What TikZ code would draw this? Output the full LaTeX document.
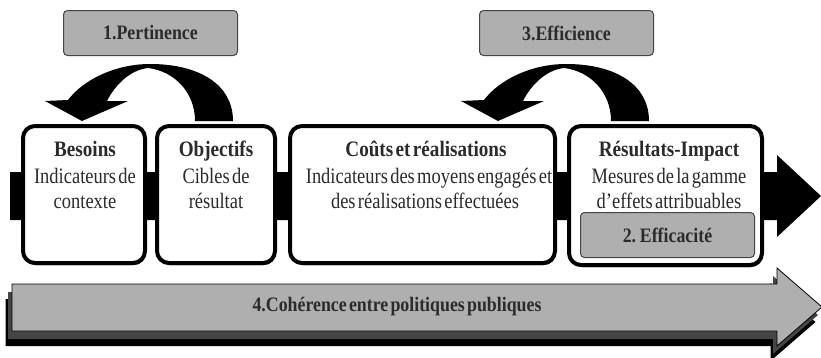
\documentclass[tikz,border=0pt]{standalone}
\usepackage{fontspec}
\setmainfont{Liberation Serif}[FakeStretch=0.84,WordSpace=0.5,BoldFeatures={FakeStretch=0.87}]
\usetikzlibrary{shadows}
\definecolor{lblfill}{HTML}{AFAFAF}
\definecolor{txtc}{HTML}{2B2B2B}
\definecolor{shdc}{HTML}{454545}
\begin{document}
\begin{tikzpicture}[x=1pt,y=-1pt,
  box/.style={draw=black,line width=4pt,fill=white,rounded corners=12pt,inner sep=0pt,
    general shadow={fill=black,shadow xshift=1pt,shadow yshift=-2pt}},
  lblbox/.style={draw=shdc,line width=1pt,fill=lblfill,rounded corners=4pt,inner sep=0pt,
    minimum width=174pt,minimum height=45pt,text=txtc,
    font=\fontsize{20.5}{24}\selectfont\bfseries},
  ttl/.style={font=\fontsize{22}{26}\selectfont\bfseries,text=txtc,anchor=base,inner sep=0pt},
  bodytxt/.style={font=\fontsize{22}{26}\selectfont,text=txtc,anchor=base,inner sep=0pt},
  bigtxt/.style={font=\fontsize{20.5}{24}\selectfont\bfseries,text=txtc,inner sep=0pt},
  curv/.pic={
    \fill[black] (233,121) .. controls (233,85) and (200,64) .. (150,64)
      .. controls (115,64) and (83,80) .. (68,100) -- (45,101) -- (82,121) -- (128,101) -- (107,101)
      .. controls (115,85) and (130,70) .. (148,68)
      .. controls (174,71) and (195,92) .. (195,121) -- cycle;
  }]
\useasboundingbox (0,0) rectangle (821,357);

% bottom grey arrow with shadows
\foreach \dx/\dy/\cc in {-6.5/15/black,-4/8/shdc}{
  \fill[\cc,shift={(\dx,\dy)}] (12,284) -- (777,284) -- (777,268) -- (822,307) -- (777,346) -- (777,331) -- (12,331) -- cycle;
}
\filldraw[fill=lblfill,draw=black,line width=0.8pt] (12,284) -- (777,284) -- (777,268) -- (822,307) -- (777,346) -- (777,331) -- (12,331) -- cycle;
\node[bigtxt] (coh) at (397,307) {4.Cohérence entre politiques publiques};

% main black arrow
\fill[black] (10,172) -- (777,172) -- (777,155) -- (821,196) -- (777,237) -- (777,220) -- (10,220) -- cycle;

% boxes
\node[box,minimum width=122pt,minimum height=137pt] (bes) at (84,194.5) {};
\node[box,minimum width=118pt,minimum height=137pt] (obj) at (216,194.5) {};
\node[box,minimum width=265pt,minimum height=137pt] (cou) at (422.5,194.5) {};
\node[box,minimum width=193pt,minimum height=139pt] (res) at (665.5,195.5) {};

% texts
\node[ttl] (besT) at (85,156) {Besoins};
\node[bodytxt] (besA) at (85,183) {Indicateurs de};
\node[bodytxt] (besB) at (85,208) {contexte};
\node[ttl] (objT) at (216,156) {Objectifs};
\node[bodytxt] (objA) at (216,183) {Cibles de};
\node[bodytxt] (objB) at (216,208) {résultat};
\node[ttl] (couT) at (426,156) {Coûts et réalisations};
\node[bodytxt] (couA) at (429,183) {Indicateurs des moyens engagés et};
\node[bodytxt] (couB) at (425,208) {des réalisations effectuées};
\node[ttl] (resT) at (669,156) {Résultats-Impact};
\node[bodytxt] (resA) at (669,183) {Mesures de la gamme};
\node[bodytxt] (resB) at (669,208) {d’effets attribuables};
\node[lblbox] (eff) at (667.5,235) {2. Efficacité};

% curved arrows
\pic {curv};
\pic[xshift=416pt] {curv};

% labels
\node[lblbox] (per) at (150.5,33) {1.Pertinence};
\node[lblbox] (effi) at (566.5,33) {3.Efficience};
\end{tikzpicture}
\end{document}
